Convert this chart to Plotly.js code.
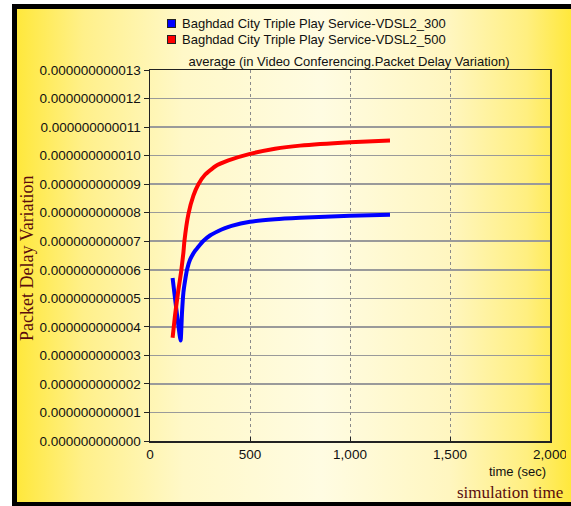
<!DOCTYPE html>
<html>
<head>
<meta charset="utf-8">
<script src="https://cdn.plot.ly/plotly-3.0.1.min.js"></script>
<style>
  html, body { margin:0; padding:0; background:#ffffff; }
  #stage { position:relative; width:571px; height:506px; overflow:hidden; background:#ffffff; }
  #frame { position:absolute; left:12px; top:4px; width:564px; height:502px; box-sizing:border-box;
           border-left:5px solid #000; border-top:5px solid #000; border-right:5px solid #000; border-bottom:4px solid #000;
           background:linear-gradient(to right, #ffe83c 0%, #fff08a 12%, #fff8c8 30%, #fffce2 55%, #fff6c0 78%, #ffef80 92%, #ffe83c 100%); }
  #clip { position:absolute; left:0; top:0; width:566px; height:502px; overflow:hidden; }
  #chart { position:absolute; left:0; top:0; width:571px; height:506px; }
</style>
</head>
<body>
<div id="stage">
  <div id="frame"></div>
  <div id="clip"><div id="chart"></div></div>
</div>
<script>
// Data
const seriesNames = [
  "Baghdad City Triple Play Service-VDSL2_300",
  "Baghdad City Triple Play Service-VDSL2_500"
];
const blueTime = [113, 153, 160, 167, 175, 185, 200, 225, 250, 265, 300, 342, 375, 408, 500, 625, 750, 1000, 1200];
const blueVals = [5.71e-12, 3.52e-12, 4.5e-12, 5.2e-12, 5.6e-12, 6.0e-12, 6.35e-12, 6.66e-12, 6.88e-12, 7.0e-12, 7.2e-12, 7.36e-12, 7.46e-12, 7.54e-12, 7.68e-12, 7.77e-12, 7.82e-12, 7.89e-12, 7.93e-12];
const redTime  = [113, 125, 142, 155, 167, 172, 192, 217, 242, 275, 325, 392, 500, 625, 750, 1000, 1200];
const redVals  = [3.62e-12, 4.4e-12, 5.3e-12, 5.9e-12, 6.6e-12, 7.0e-12, 7.95e-12, 8.6e-12, 9.0e-12, 9.33e-12, 9.62e-12, 9.83e-12, 10.06e-12, 10.24e-12, 10.35e-12, 10.47e-12, 10.53e-12];
const xTickVals = [0, 500, 1000, 1500, 2000];
const yTickVals = [0, 1e-12, 2e-12, 3e-12, 4e-12, 5e-12, 6e-12, 7e-12, 8e-12, 9e-12, 10e-12, 11e-12, 12e-12, 13e-12];
const seriesColors = ["#0000ff", "#ff0000"];

const sans = "Liberation Sans, Arial, sans-serif";
const serif = "Liberation Serif, Times New Roman, serif";
const maroon = "#5a0c0c";

const traces = [
  { x: blueTime, y: blueVals, mode: "lines", name: seriesNames[0],
    line: { color: seriesColors[0], width: 4, shape: "spline", smoothing: 0.4 } },
  { x: redTime, y: redVals, mode: "lines", name: seriesNames[1],
    line: { color: seriesColors[1], width: 4, shape: "spline", smoothing: 0.4 } }
];

// legend drawn as annotations (swatch + label), placed in pixel terms of the plot box
const plotL = 150, plotW = 400, plotB = 441, plotH = 371;
const px = v => (v - plotL) / plotW;
const py = v => (plotB - v) / plotH;
const legendRows = [23.5, 39];
const legendAnn = [];
seriesNames.forEach((nm, i) => {
  legendAnn.push({ text: " ", xref: "paper", yref: "paper", x: px(171.5), y: py(legendRows[i]),
    xanchor: "center", yanchor: "middle", showarrow: false, width: 7, height: 7, borderpad: 0,
    bgcolor: seriesColors[i], bordercolor: "#222", borderwidth: 1, font: { size: 4 } });
  legendAnn.push({ text: nm, xref: "paper", yref: "paper", x: px(180), y: py(legendRows[i]),
    xanchor: "left", yanchor: "middle", showarrow: false,
    font: { family: sans, size: 13, color: "#111" } });
});

const layout = {
  width: 571, height: 506,
  margin: { l: 150, r: 21, t: 70, b: 65, pad: 0 },
  paper_bgcolor: "rgba(0,0,0,0)",
  plot_bgcolor: "rgba(0,0,0,0)",
  font: { family: sans, size: 13, color: "#000" },
  title: { text: "average (in Video Conferencing.Packet Delay Variation)",
           font: { family: sans, size: 13, color: "#111" },
           x: 0.6112, xanchor: "center", y: 1 - 61/506, yanchor: "middle" },
  showlegend: false,
  xaxis: {
    range: [0, 2000], tickvals: xTickVals, tickformat: ",",
    showline: true, linecolor: "#222", linewidth: 1.5, mirror: true,
    ticks: "inside", ticklen: 4, tickcolor: "#222", tickwidth: 1,
    showgrid: true, gridcolor: "#8a8a8a", gridwidth: 1, griddash: "dot",
    zeroline: false, tickfont: { family: sans, size: 13.5, color: "#111" }
  },
  yaxis: {
    range: [0, 13e-12], tickvals: yTickVals, tickformat: ".12f",
    showline: true, linecolor: "#222", linewidth: 1.5, mirror: true,
    ticks: "outside", ticklen: 5, tickcolor: "#222", tickwidth: 1,
    showgrid: true, gridcolor: "#9a9a9a", gridwidth: 1.5,
    zeroline: false, tickfont: { family: sans, size: 13.5, color: "#111" }
  },
  annotations: legendAnn.concat([
    { text: "Packet Delay Variation", xref: "paper", yref: "paper",
      x: px(27), y: py(258), xanchor: "center", yanchor: "middle",
      textangle: -90, showarrow: false, font: { family: serif, size: 18, color: maroon } },
    { text: "time (sec)", xref: "paper", yref: "paper",
      x: px(548), y: py(471), xanchor: "right", yanchor: "middle",
      showarrow: false, font: { family: sans, size: 13, color: "#111" } },
    { text: "simulation time", xref: "paper", yref: "paper",
      x: px(565), y: py(492), xanchor: "right", yanchor: "middle",
      showarrow: false, font: { family: serif, size: 17, color: maroon } }
  ])
};

Plotly.newPlot("chart", traces, layout, { displayModeBar: false, staticPlot: true });
</script>
</body>
</html>
